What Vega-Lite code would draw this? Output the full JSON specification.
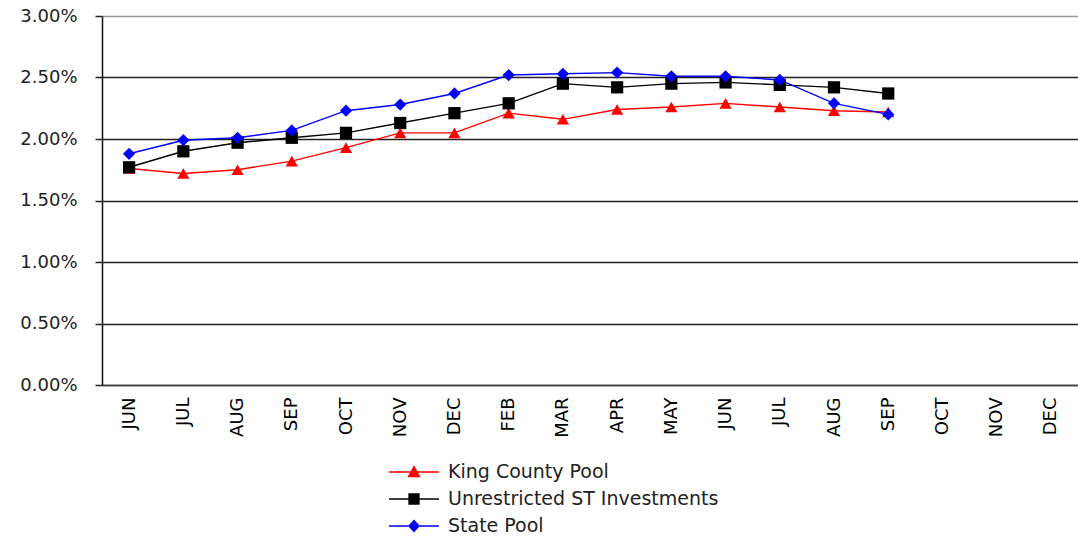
{
  "$schema": "https://vega.github.io/schema/vega-lite/v6.json",
  "width": 976,
  "height": 369,
  "autosize": "none",
  "padding": {"left": 102, "top": 16, "right": 0, "bottom": 155},
  "background": "white",
  "config": {
    "view": {"stroke": null},
    "font": "DejaVu Sans"
  },
  "data": {
    "values": [
      {"m": "JUN|1", "series": "King County Pool", "v": 0.0176},
      {"m": "JUL|1", "series": "King County Pool", "v": 0.0172},
      {"m": "AUG|1", "series": "King County Pool", "v": 0.0175},
      {"m": "SEP|1", "series": "King County Pool", "v": 0.0182},
      {"m": "OCT|1", "series": "King County Pool", "v": 0.0193},
      {"m": "NOV|1", "series": "King County Pool", "v": 0.0205},
      {"m": "DEC|1", "series": "King County Pool", "v": 0.0205},
      {"m": "FEB|2", "series": "King County Pool", "v": 0.0221},
      {"m": "MAR|2", "series": "King County Pool", "v": 0.0216},
      {"m": "APR|2", "series": "King County Pool", "v": 0.0224},
      {"m": "MAY|2", "series": "King County Pool", "v": 0.0226},
      {"m": "JUN|2", "series": "King County Pool", "v": 0.0229},
      {"m": "JUL|2", "series": "King County Pool", "v": 0.0226},
      {"m": "AUG|2", "series": "King County Pool", "v": 0.0223},
      {"m": "SEP|2", "series": "King County Pool", "v": 0.0222},
      {"m": "JUN|1", "series": "Unrestricted ST Investments", "v": 0.0177},
      {"m": "JUL|1", "series": "Unrestricted ST Investments", "v": 0.0190},
      {"m": "AUG|1", "series": "Unrestricted ST Investments", "v": 0.0197},
      {"m": "SEP|1", "series": "Unrestricted ST Investments", "v": 0.0201},
      {"m": "OCT|1", "series": "Unrestricted ST Investments", "v": 0.0205},
      {"m": "NOV|1", "series": "Unrestricted ST Investments", "v": 0.0213},
      {"m": "DEC|1", "series": "Unrestricted ST Investments", "v": 0.0221},
      {"m": "FEB|2", "series": "Unrestricted ST Investments", "v": 0.0229},
      {"m": "MAR|2", "series": "Unrestricted ST Investments", "v": 0.0245},
      {"m": "APR|2", "series": "Unrestricted ST Investments", "v": 0.0242},
      {"m": "MAY|2", "series": "Unrestricted ST Investments", "v": 0.0245},
      {"m": "JUN|2", "series": "Unrestricted ST Investments", "v": 0.0246},
      {"m": "JUL|2", "series": "Unrestricted ST Investments", "v": 0.0244},
      {"m": "AUG|2", "series": "Unrestricted ST Investments", "v": 0.0242},
      {"m": "SEP|2", "series": "Unrestricted ST Investments", "v": 0.0237},
      {"m": "JUN|1", "series": "State Pool", "v": 0.0188},
      {"m": "JUL|1", "series": "State Pool", "v": 0.0199},
      {"m": "AUG|1", "series": "State Pool", "v": 0.0201},
      {"m": "SEP|1", "series": "State Pool", "v": 0.0207},
      {"m": "OCT|1", "series": "State Pool", "v": 0.0223},
      {"m": "NOV|1", "series": "State Pool", "v": 0.0228},
      {"m": "DEC|1", "series": "State Pool", "v": 0.0237},
      {"m": "FEB|2", "series": "State Pool", "v": 0.0252},
      {"m": "MAR|2", "series": "State Pool", "v": 0.0253},
      {"m": "APR|2", "series": "State Pool", "v": 0.0254},
      {"m": "MAY|2", "series": "State Pool", "v": 0.0251},
      {"m": "JUN|2", "series": "State Pool", "v": 0.0251},
      {"m": "JUL|2", "series": "State Pool", "v": 0.0248},
      {"m": "AUG|2", "series": "State Pool", "v": 0.0229},
      {"m": "SEP|2", "series": "State Pool", "v": 0.0220}
    ]
  },
  "encoding": {
    "x": {
      "field": "m",
      "type": "ordinal",
      "scale": {
        "type": "point",
        "padding": 0.5,
        "domain": ["JUN|1", "JUL|1", "AUG|1", "SEP|1", "OCT|1", "NOV|1", "DEC|1", "FEB|2", "MAR|2", "APR|2", "MAY|2", "JUN|2", "JUL|2", "AUG|2", "SEP|2", "OCT|2", "NOV|2", "DEC|2"]
      },
      "axis": {
        "title": null,
        "labelExpr": "split(datum.label, '|')[0]",
        "labelAngle": -90,
        "labelFontSize": 18,
        "labelColor": "#000",
        "labelPadding": 12,
        "ticks": false,
        "domainColor": "#444",
        "domainWidth": 1.5,
        "grid": false
      }
    },
    "y": {
      "field": "v",
      "type": "quantitative",
      "scale": {"domain": [0, 0.03], "nice": false},
      "axis": {
        "title": null,
        "format": ".2%",
        "values": [0, 0.005, 0.01, 0.015, 0.02, 0.025, 0.03],
        "labelFontSize": 18,
        "labelColor": "#222",
        "labelPadding": 18,
        "tickSize": 7,
        "tickColor": "#222",
        "tickWidth": 1.5,
        "domainColor": "#111",
        "domainWidth": 1.5,
        "grid": true,
        "gridColor": {"condition": {"test": "datum.value >= 0.03", "value": "#999"}, "value": "#222"},
        "gridWidth": 1.5
      }
    }
  },
  "layer": [
    {
      "mark": {"type": "line", "strokeWidth": 1.4},
      "encoding": {
        "color": {
          "field": "series",
          "type": "nominal",
          "scale": {
            "domain": ["King County Pool", "Unrestricted ST Investments", "State Pool"],
            "range": ["#ff0000", "#000000", "#0000ff"]
          },
          "legend": null
        }
      }
    },
    {
      "mark": {"type": "point", "filled": true, "opacity": 1, "size": 150},
      "encoding": {
        "color": {"field": "series", "type": "nominal", "legend": null},
        "shape": {
          "field": "series",
          "type": "nominal",
          "scale": {
            "domain": ["King County Pool", "Unrestricted ST Investments", "State Pool"],
            "range": ["triangle-up", "square", "diamond"]
          },
          "legend": null
        }
      }
    },
    {
      "mark": {"type": "point", "opacity": 0, "size": 400, "strokeWidth": 1.3},
      "encoding": {
        "fill": {
          "field": "series",
          "type": "nominal",
          "scale": {
            "domain": ["King County Pool", "Unrestricted ST Investments", "State Pool"],
            "range": ["#ff0000", "#000000", "#0000ff"]
          },
          "legend": {"title": null}
        },
        "stroke": {
          "field": "series",
          "type": "nominal",
          "scale": {
            "domain": ["King County Pool", "Unrestricted ST Investments", "State Pool"],
            "range": ["#ff0000", "#000000", "#0000ff"]
          },
          "legend": {"title": null}
        },
        "shape": {
          "field": "series",
          "type": "nominal",
          "scale": {
            "domain": ["King County Pool", "Unrestricted ST Investments", "State Pool"],
            "range": [
              "M-2.5,0H2.5M0,-0.55L0.55,0.45L-0.55,0.45Z",
              "M-2.5,0H2.5M-0.5,-0.5H0.5V0.5H-0.5Z",
              "M-2.5,0H2.5M0,-0.55L0.5,0L0,0.55L-0.5,0Z"
            ]
          },
          "legend": {
            "title": null,
            "orient": "none",
            "legendX": 301,
            "legendY": 445,
            "symbolSize": 400,
            "symbolOpacity": 1,
            "symbolStrokeWidth": 1.3,
            "labelFontSize": 19,
            "labelColor": "#222",
            "labelOffset": 23,
            "rowPadding": 6,
            "labelLimit": 500
          }
        }
      }
    }
  ],
  "resolve": {"scale": {"shape": "independent", "fill": "independent", "stroke": "independent"}}
}
